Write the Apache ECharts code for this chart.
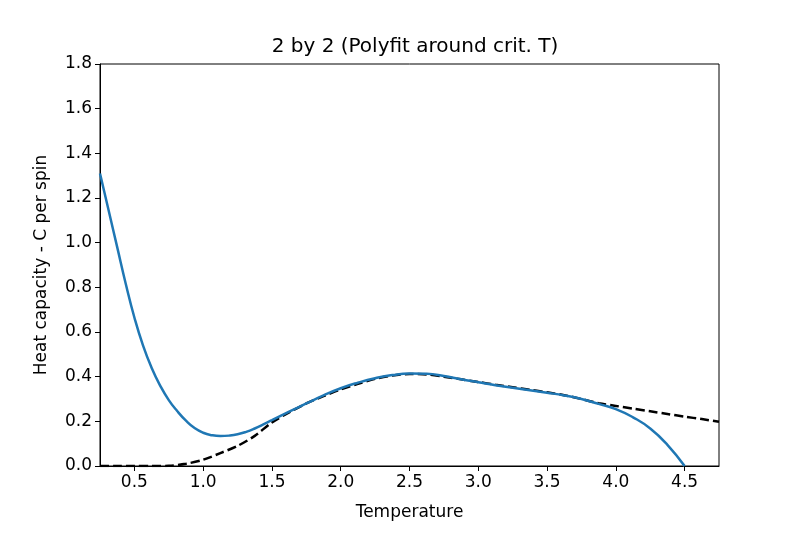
<!DOCTYPE html>
<html>
<head>
<meta charset="utf-8">
<script src="https://cdn.jsdelivr.net/npm/echarts@6/dist/echarts.min.js"></script>
<style>
  html, body { margin: 0; padding: 0; background: #fff; }
  #chart { width: 800px; height: 533px; }
</style>
</head>
<body>
<div id="chart"></div>
<script>
// measured heat capacity (dashed)
var dataT = [0.25, 0.375, 0.5, 0.625, 0.75, 0.875, 1.0, 1.125, 1.25, 1.375, 1.5, 1.625, 1.75, 1.875, 2.0, 2.125, 2.25, 2.375, 2.5, 2.625, 2.75, 2.875, 3.0, 3.125, 3.25, 3.375, 3.5, 3.625, 3.75, 3.875, 4.0, 4.125, 4.25, 4.375, 4.5, 4.625, 4.75]
var dataC = [0.0, 0.0, 0.0, 0.0, 0.001, 0.01, 0.028, 0.058, 0.09, 0.135, 0.195, 0.24, 0.28, 0.313, 0.343, 0.368, 0.39, 0.405, 0.412, 0.41, 0.4, 0.388, 0.376, 0.364, 0.353, 0.341, 0.33, 0.317, 0.3, 0.281, 0.269, 0.257, 0.245, 0.233, 0.221, 0.21, 0.198]

// polyfit curve (blue)
var fitT = [0.25, 0.3125, 0.375, 0.4375, 0.5, 0.5625, 0.625, 0.6875, 0.75, 0.8125, 0.875, 0.9375, 1.0, 1.0625, 1.125, 1.1875, 1.25, 1.3125, 1.375, 1.4375, 1.5, 1.625, 1.75, 1.875, 2.0, 2.125, 2.25, 2.375, 2.5, 2.625, 2.75, 2.875, 3.0, 3.125, 3.25, 3.375, 3.5, 3.625, 3.75, 3.875, 4.0, 4.125, 4.25, 4.375, 4.5]
var fitC = [1.31, 1.145, 0.98, 0.815, 0.665, 0.54, 0.44, 0.36, 0.295, 0.245, 0.203, 0.17, 0.149, 0.138, 0.134, 0.136, 0.142, 0.153, 0.168, 0.186, 0.205, 0.243, 0.28, 0.316, 0.348, 0.373, 0.393, 0.407, 0.414, 0.413, 0.403, 0.388, 0.375, 0.362, 0.35, 0.339, 0.328, 0.316, 0.3, 0.278, 0.255, 0.218, 0.168, 0.095, 0.0]

var xTicks = [0.5, 1.0, 1.5, 2.0, 2.5, 3.0, 3.5, 4.0, 4.5]

function pairs (xs, ys) {
  return xs.map(function (x, i) { return [x, ys[i]] })
}

var font = 'DejaVu Sans'
var chart = echarts.init(document.getElementById('chart'))
chart.setOption({
  animation: false,
  title: {
    text: '2 by 2 (Polyfit around crit. T)',
    left: 410,
    top: 32,
    textAlign: 'center',
    textStyle: { fontFamily: font, fontSize: 20, fontWeight: 'normal', color: '#000' }
  },
  grid: {
    left: 100, right: 81, top: 64, bottom: 67,
    show: true, borderColor: '#000', borderWidth: 1
  },
  xAxis: {
    type: 'value',
    min: 0.25,
    max: 4.75,
    name: 'Temperature',
    nameLocation: 'middle',
    nameGap: 38,
    nameTextStyle: { fontFamily: font, fontSize: 17, color: '#000' },
    axisLine: { show: true, onZero: false, lineStyle: { color: '#000', width: 1 } },
    axisTick: { show: true, length: 5, customValues: xTicks, lineStyle: { color: '#000' } },
    axisLabel: {
      customValues: xTicks,
      margin: 8,
      fontFamily: font, fontSize: 17, color: '#000',
      formatter: function (v) { return v.toFixed(1) }
    },
    splitLine: { show: false }
  },
  yAxis: {
    type: 'value',
    min: 0,
    max: 1.8,
    interval: 0.2,
    name: 'Heat capacity - C per spin',
    nameLocation: 'middle',
    nameGap: 50,
    nameTextStyle: { fontFamily: font, fontSize: 17, color: '#000' },
    axisLine: { show: true, lineStyle: { color: '#000', width: 1 } },
    axisTick: { show: true, length: 5, lineStyle: { color: '#000' } },
    axisLabel: {
      margin: 8,
      fontFamily: font, fontSize: 17, color: '#000',
      formatter: function (v) { return v.toFixed(1) }
    },
    splitLine: { show: false }
  },
  series: [
    {
      type: 'line',
      data: pairs(dataT, dataC),
      showSymbol: false,
      smooth: 0.3,
      lineStyle: { color: '#000', width: 2.5, type: [9, 4] },
      z: 2
    },
    {
      type: 'line',
      data: pairs(fitT, fitC),
      showSymbol: false,
      smooth: 0.5,
      lineStyle: { color: '#1f77b4', width: 2.5 },
      z: 3
    }
  ]
})
</script>
</body>
</html>
